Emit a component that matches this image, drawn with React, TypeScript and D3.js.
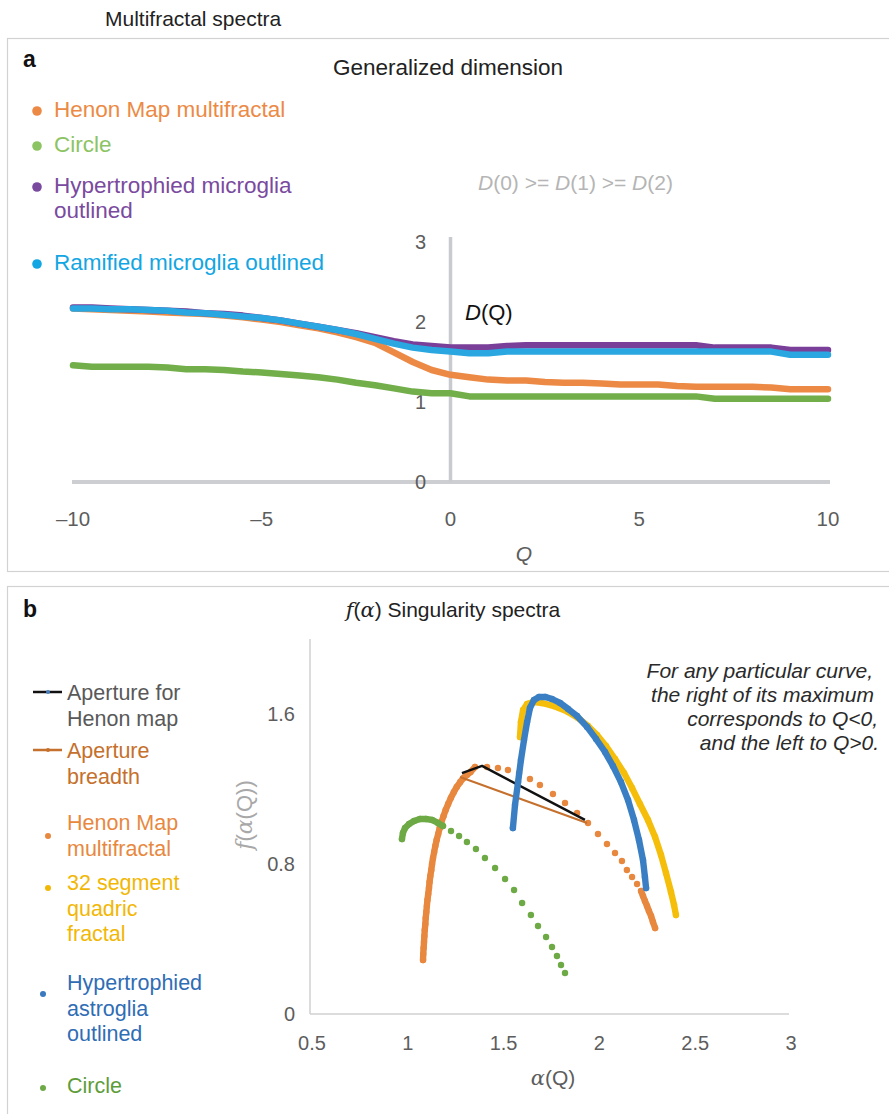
import React from "react";
import * as d3 from "d3";

const FONT = "'Liberation Sans', Arial, Helvetica, sans-serif";
const SERIF = "'DejaVu Serif', 'Liberation Serif', serif";

// ---------- Panel a: generalized dimension D(Q) ----------
const qValues = [
  -10, -9.5, -9, -8.5, -8, -7.5, -7, -6.5, -6, -5.5, -5, -4.5, -4, -3.5, -3, -2.5, -2, -1.5, -1, -0.5,
  0, 0.5, 1, 1.5, 2, 2.5, 3, 3.5, 4, 4.5, 5, 5.5, 6, 6.5, 7, 7.5, 8, 8.5, 9, 9.5, 10,
];
const henonD = [
  2.17, 2.16, 2.15, 2.14, 2.13, 2.12, 2.11, 2.1, 2.08, 2.06, 2.03, 2.0, 1.96, 1.92, 1.87, 1.81, 1.74, 1.62, 1.5, 1.4,
  1.34, 1.31, 1.28, 1.27, 1.27, 1.25, 1.24, 1.24, 1.23, 1.22, 1.22, 1.22, 1.2, 1.19, 1.19, 1.19, 1.19, 1.18, 1.16, 1.16, 1.16,
];
const circleD = [
  1.46, 1.44, 1.44, 1.44, 1.44, 1.43, 1.41, 1.41, 1.4, 1.38, 1.37, 1.35, 1.33, 1.31, 1.28, 1.24, 1.21, 1.17, 1.13, 1.11,
  1.11, 1.07, 1.07, 1.07, 1.07, 1.07, 1.07, 1.07, 1.07, 1.07, 1.07, 1.07, 1.07, 1.07, 1.04, 1.04, 1.04, 1.04, 1.04, 1.04, 1.04,
];
const hypertrophiedMicrogliaD = [
  2.18, 2.18, 2.17, 2.16, 2.15, 2.14, 2.13, 2.11, 2.1, 2.08, 2.05, 2.02, 1.98, 1.94, 1.9, 1.86, 1.81, 1.76, 1.72, 1.7,
  1.68, 1.68, 1.68, 1.7, 1.71, 1.71, 1.71, 1.71, 1.71, 1.71, 1.71, 1.71, 1.71, 1.71, 1.68, 1.68, 1.68, 1.68, 1.65, 1.65, 1.65,
];
const ramifiedMicrogliaD = [
  2.17, 2.17, 2.16, 2.16, 2.15, 2.14, 2.12, 2.11, 2.09, 2.07, 2.05, 2.02, 1.98, 1.94, 1.9, 1.85, 1.79, 1.73, 1.68, 1.65,
  1.63, 1.61, 1.61, 1.63, 1.63, 1.63, 1.63, 1.63, 1.63, 1.63, 1.63, 1.63, 1.63, 1.63, 1.63, 1.63, 1.63, 1.63, 1.59, 1.59, 1.59,
];
const qTicks = [-10, -5, 0, 5, 10];
const dTicks = [0, 1, 2, 3];

// ---------- Panel b: f(alpha) singularity spectra, [alpha, f] ----------
const henonSpectrum: [number, number][] = [
  [1.09, 0.288], [1.091, 0.32], [1.093, 0.352], [1.095, 0.384], [1.097, 0.416], [1.099, 0.448], [1.102, 0.48],
  [1.104, 0.512], [1.107, 0.544], [1.11, 0.576], [1.113, 0.608], [1.117, 0.64], [1.121, 0.672], [1.124, 0.704],
  [1.128, 0.736], [1.133, 0.768], [1.137, 0.8], [1.142, 0.832], [1.148, 0.864], [1.154, 0.896], [1.161, 0.928],
  [1.169, 0.96], [1.177, 0.992], [1.186, 1.024], [1.197, 1.056], [1.208, 1.088], [1.221, 1.12], [1.235, 1.152],
  [1.251, 1.184], [1.266, 1.211], [1.284, 1.237], [1.301, 1.259], [1.319, 1.275], [1.338, 1.291],
  [1.361, 1.317], [1.424, 1.317], [1.481, 1.312], [1.533, 1.301], [1.591, 1.285], [1.648, 1.253], [1.7, 1.221],
  [1.768, 1.173], [1.831, 1.125], [1.894, 1.072], [1.951, 1.019], [2.003, 0.96], [2.05, 0.907], [2.092, 0.859],
  [2.128, 0.816], [2.154, 0.768], [2.181, 0.731], [2.207, 0.693], [2.228, 0.656], [2.238, 0.629], [2.248, 0.603],
  [2.259, 0.576], [2.269, 0.549], [2.28, 0.523], [2.29, 0.491], [2.301, 0.459],
];
const quadricSpectrum: [number, number][] = [
  [1.596, 1.477], [1.601, 1.557], [1.612, 1.621], [1.633, 1.653], [1.664, 1.664], [1.706, 1.659], [1.753, 1.648],
  [1.8, 1.632], [1.847, 1.611], [1.899, 1.579], [1.951, 1.536], [1.998, 1.488], [2.045, 1.429], [2.092, 1.36],
  [2.139, 1.285], [2.181, 1.205], [2.222, 1.12], [2.264, 1.035], [2.301, 0.944], [2.332, 0.848], [2.358, 0.752],
  [2.384, 0.651], [2.4, 0.581], [2.41, 0.528],
];
const astrogliaSpectrum: [number, number][] = [
  [1.559, 0.992], [1.57, 1.115], [1.586, 1.237], [1.601, 1.355], [1.617, 1.461], [1.633, 1.557], [1.648, 1.632],
  [1.669, 1.675], [1.695, 1.691], [1.727, 1.691], [1.763, 1.68], [1.805, 1.659], [1.847, 1.627], [1.894, 1.589],
  [1.946, 1.531], [1.993, 1.467], [2.04, 1.397], [2.081, 1.323], [2.123, 1.237], [2.16, 1.141], [2.191, 1.035],
  [2.217, 0.928], [2.238, 0.821], [2.248, 0.731], [2.254, 0.672],
];
const circleSpectrum: [number, number][] = [
  [0.98, 0.933], [0.985, 0.965], [0.996, 0.992], [1.017, 1.013], [1.043, 1.029], [1.074, 1.04], [1.105, 1.04],
  [1.137, 1.035], [1.168, 1.019], [1.194, 1.003],
  [1.236, 0.976], [1.278, 0.949], [1.319, 0.917], [1.366, 0.88], [1.413, 0.832], [1.466, 0.779], [1.518, 0.72],
  [1.565, 0.661], [1.607, 0.592], [1.653, 0.528], [1.69, 0.469], [1.732, 0.411], [1.763, 0.357], [1.789, 0.309],
  [1.81, 0.261], [1.831, 0.219],
];
const apertureHenon: [number, number][] = [[1.293, 1.285], [1.398, 1.323], [1.935, 1.035]];
const apertureBreadth: [number, number][] = [[1.283, 1.264], [1.946, 1.019]];
const alphaTicks = [0.5, 1, 1.5, 2, 2.5, 3];
const fTicks = [0, 0.8, 1.6];

// Scales
const xQ = d3.scaleLinear().domain([-10, 10]).range([73, 828]);
const yD = d3.scaleLinear().domain([0, 3]).range([482, 242]);
const xA = d3.scaleLinear().domain([0.5, 3]).range([310, 789]);
const yF = d3.scaleLinear().domain([0, 2]).range([1014, 639]);

const TICK = "#5d5d5d";

// Split a marker series into runs of markers close enough to read as one stroke
function runs(pts: [number, number][], maxGap: number): [number, number][][] {
  const px = pts.map(([a, f]) => [xA(a), yF(f)] as [number, number]);
  const out: [number, number][][] = [];
  let cur: [number, number][] = [px[0]];
  for (let i = 1; i < px.length; i++) {
    const d = Math.hypot(px[i][0] - px[i - 1][0], px[i][1] - px[i - 1][1]);
    if (d <= maxGap) cur.push(px[i]);
    else {
      out.push(cur);
      cur = [px[i]];
    }
  }
  out.push(cur);
  return out.filter((r) => r.length > 1);
}

const pathPx = d3.line<[number, number]>().curve(d3.curveLinear);

function Spectrum({ data, color, r, maxGap }: { data: [number, number][]; color: string; r: number; maxGap: number }) {
  return (
    <g>
      {runs(data, maxGap).map((run, i) => (
        <path key={i} d={pathPx(run) || ""} fill="none" stroke={color} strokeWidth={r * 2} strokeLinecap="round" strokeLinejoin="round" />
      ))}
      {data.map(([a, f], i) => (
        <circle key={i} cx={xA(a)} cy={yF(f)} r={r} fill={color} />
      ))}
    </g>
  );
}

export default function App() {
  const dLine = d3
    .line<number>()
    .x((_, i) => xQ(qValues[i]))
    .y((d) => yD(d))
    .curve(d3.curveLinear);

  const panelA = [
    { values: circleD, color: "#72AE4A" },
    { values: henonD, color: "#EC8A45" },
    { values: hypertrophiedMicrogliaD, color: "#7A3F98" },
    { values: ramifiedMicrogliaD, color: "#2AA6E0" },
  ];

  const legendA = [
    { lines: ["Henon Map multifractal"], color: "#EC8A45", text: "#EC8A45", y: 117 },
    { lines: ["Circle"], color: "#8CC463", text: "#8CC463", y: 152 },
    { lines: ["Hypertrophied microglia", "outlined"], color: "#7A4A9E", text: "#7A4A9E", y: 193 },
    { lines: ["Ramified microglia outlined"], color: "#12A6E2", text: "#12A6E2", y: 270 },
  ];

  const legendB = [
    { lines: ["Aperture for", "Henon map"], text: "#595959", y: 700, kind: "line", color: "#111111", marker: "#4A7FC0" },
    { lines: ["Aperture", "breadth"], text: "#C5702C", y: 758, kind: "line", color: "#C5702C", marker: "#C5702C" },
    { lines: ["Henon Map", "multifractal"], text: "#E8883F", y: 830, kind: "dot", color: "#E8883F", dotY: 836, dotX: 48 },
    { lines: ["32 segment", "quadric", "fractal"], text: "#F2B705", y: 890, kind: "dot", color: "#F2B705", dotY: 888, dotX: 48 },
    { lines: ["Hypertrophied", "astroglia", "outlined"], text: "#2F6DB5", y: 990, kind: "dot", color: "#3A78C0", dotY: 994, dotX: 43 },
    { lines: ["Circle"], text: "#5E9C3A", y: 1093, kind: "dot", color: "#6DAA45", dotY: 1088, dotX: 43 },
  ];

  return (
    <svg
      width={889}
      height={1114}
      viewBox="0 0 889 1114"
      style={{ position: "absolute", left: 0, top: 0, background: "#fff" }}
      fontFamily={FONT}
    >
      <rect x={0} y={0} width={889} height={1114} fill="#fff" />
      <text x={105} y={26} fontSize={21} fill="#222">Multifractal spectra</text>

      {/* Panel a */}
      <rect x={7.5} y={38.5} width={900} height={533} fill="none" stroke="#d2d2d2" strokeWidth={1.2} />
      <text x={23} y={67} fontSize={23} fontWeight="bold" fill="#111">a</text>
      <text x={448} y={75} fontSize={22.5} fill="#222" textAnchor="middle">Generalized dimension</text>

      {legendA.map((l, i) => (
        <g key={i}>
          <circle cx={37} cy={l.y - 6} r={4.8} fill={l.color} />
          {l.lines.map((t, j) => (
            <text key={j} x={54} y={l.y + j * 25} fontSize={22.5} fill={l.text}>{t}</text>
          ))}
        </g>
      ))}

      <text x={478} y={190} fontSize={21} fill="#b5b5b5">
        <tspan fontStyle="italic">D</tspan>(0) &gt;= <tspan fontStyle="italic">D</tspan>(1) &gt;= <tspan fontStyle="italic">D</tspan>(2)
      </text>

      {/* axes */}
      <line x1={xQ(-10) - 1} x2={xQ(10) + 2} y1={yD(0)} y2={yD(0)} stroke="#cdced2" strokeWidth={4} />
      <line x1={xQ(0)} x2={xQ(0)} y1={yD(3) - 5} y2={yD(0)} stroke="#c9cacf" strokeWidth={3.5} />
      {dTicks.map((t) => (
        <text key={t} x={426} y={yD(t) + 7} fontSize={20} fill={TICK} textAnchor="end">{t}</text>
      ))}
      {qTicks.map((t) => (
        <text key={t} x={xQ(t)} y={526} fontSize={20.5} fill={TICK} textAnchor="middle">{t < 0 ? `\u2013${-t}` : t}</text>
      ))}
      <text x={524} y={561} fontSize={21} fill={TICK} fontStyle="italic" textAnchor="middle">Q</text>
      <text x={465} y={320} fontSize={22} fill="#111">
        <tspan fontStyle="italic">D</tspan>(Q)
      </text>

      {panelA.map((s, i) => (
        <path key={i} d={dLine(s.values) || ""} fill="none" stroke={s.color} strokeWidth={6.5} strokeLinejoin="round" strokeLinecap="round" />
      ))}

      {/* Panel b */}
      <rect x={7.5} y={586.5} width={900} height={600} fill="none" stroke="#d2d2d2" strokeWidth={1.2} />
      <text x={23} y={617} fontSize={23} fontWeight="bold" fill="#111">b</text>
      <text x={453} y={617} fontSize={21} fill="#222" textAnchor="middle">
        <tspan fontStyle="italic" fontFamily={SERIF}>f</tspan>(<tspan fontStyle="italic" fontFamily={SERIF}>α</tspan>) Singularity spectra
      </text>

      {legendB.map((l, i) => (
        <g key={i}>
          {l.kind === "line" ? (
            <g>
              <line x1={33} x2={62} y1={l.y - 8} y2={l.y - 8} stroke={l.color} strokeWidth={2.5} />
              <circle cx={48} cy={l.y - 8} r={2} fill={l.marker} />
            </g>
          ) : (
            <circle cx={l.dotX} cy={l.dotY} r={3} fill={l.color} />
          )}
          {l.lines.map((t, j) => (
            <text key={j} x={67} y={l.y + j * 25.5} fontSize={21.5} fill={l.text}>{t}</text>
          ))}
        </g>
      ))}

      {/* axes */}
      <line x1={xA(0.5)} x2={xA(0.5)} y1={yF(2)} y2={yF(0)} stroke="#d0d0d0" strokeWidth={1.5} />
      <line x1={xA(0.5)} x2={xA(3)} y1={yF(0)} y2={yF(0)} stroke="#d0d0d0" strokeWidth={1.5} />
      {fTicks.map((t) => (
        <text key={t} x={295} y={yF(t) + 7} fontSize={20} fill={TICK} textAnchor="end">{t}</text>
      ))}
      {alphaTicks.map((t) => (
        <text key={t} x={xA(t) + 2} y={1050} fontSize={20} fill={TICK} textAnchor="middle">{t}</text>
      ))}
      <text x={553} y={1085} fontSize={21} fill={TICK} textAnchor="middle">
        <tspan fontStyle="italic" fontFamily={SERIF}>α</tspan>(Q)
      </text>
      <text transform="translate(252,815) rotate(-90)" fontSize={22} fill="#a8a8a8" textAnchor="middle">
        <tspan fontStyle="italic" fontFamily={SERIF}>f</tspan>(<tspan fontStyle="italic" fontFamily={SERIF}>α</tspan>(Q))
      </text>

      <g fontSize={21} fontStyle="italic" fill="#2a2a2a" textAnchor="end">
        <text x={873} y={678}>For any particular curve,</text>
        <text x={874} y={702}>the right of its maximum</text>
        <text x={878} y={726}>corresponds to Q&lt;0,</text>
        <text x={879} y={750}>and the left to Q&gt;0.</text>
      </g>

      <Spectrum data={henonSpectrum} color="#E8883F" r={3.2} maxGap={7.5} />
      <path d={pathPx(apertureBreadth.map(([a, f]) => [xA(a), yF(f)] as [number, number])) || ""} fill="none" stroke="#C5702C" strokeWidth={2} />
      <path d={pathPx(apertureHenon.map(([a, f]) => [xA(a), yF(f)] as [number, number])) || ""} fill="none" stroke="#111" strokeWidth={2.5} strokeLinejoin="round" />
      <Spectrum data={quadricSpectrum} color="#F5BE0A" r={3.2} maxGap={Infinity} />
      <Spectrum data={astrogliaSpectrum} color="#3A7FC3" r={3.2} maxGap={Infinity} />
      <Spectrum data={circleSpectrum} color="#6DAA45" r={3.2} maxGap={7.5} />
    </svg>
  );
}
